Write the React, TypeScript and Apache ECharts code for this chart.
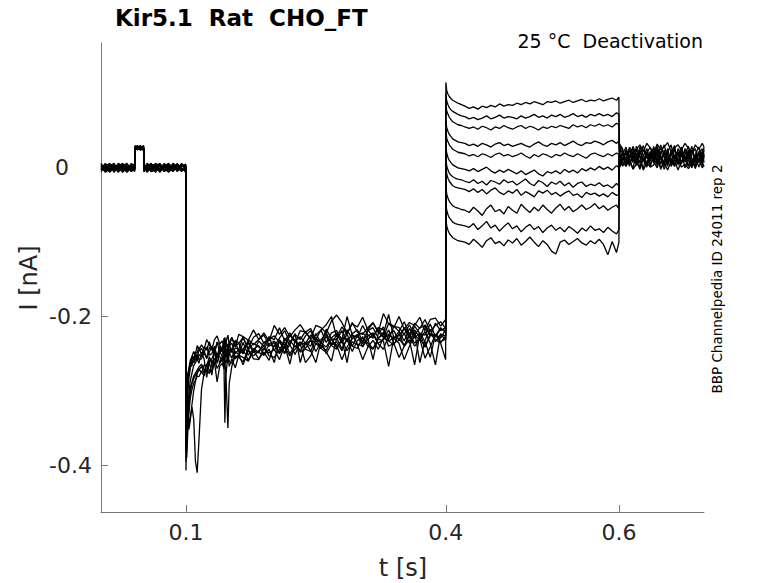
import React, { useEffect, useRef } from "react";
import * as echarts from "echarts";

// time grids (ms)
const PRE_T_MS = [2, 7, 12, 17, 22, 27, 32, 37, 41, 41.3, 44, 47, 51.2, 51.5, 55, 60, 65, 70, 75, 80, 85, 90, 95, 99.9];
const DEACT_T_MS = [
  100.1, 101, 102, 103.5, 105, 107, 109, 111, 113, 115,
  118, 121, 124, 127, 130, 133, 136, 139, 142, 144,
  145, 146, 148.5, 150, 153, 157, 161, 166, 172, 178,
  184, 190, 196, 202, 208, 214, 220, 226, 232, 238,
  244, 250, 256, 262, 268, 274, 280, 286, 292, 298,
  304, 310, 316, 322, 328, 334, 340, 346, 352, 358,
  364, 370, 376, 382, 388, 394, 399.8,
];
const ACT_T_MS = [
  400.1, 401, 402.5, 404, 406, 408, 411, 414, 418, 422,
  427, 432, 437, 442, 447, 452, 457, 462, 467, 472,
  477, 482, 487, 492, 497, 502, 507, 512, 517, 522,
  527, 532, 537, 542, 547, 552, 557, 562, 567, 572,
  577, 582, 587, 592, 597, 599.8,
];
const TAIL_T_MS = [
  600.1, 604, 608, 612, 616, 620, 624, 628, 632, 636,
  640, 644, 648, 652, 656, 660, 664, 668, 672, 676,
  680, 684, 688, 692, 696, 698,
];

// currents (pA), one row per sweep
const PRE_PA = [
  [3, -5, 2, 6, -3, 0, 5, -2, 3, 28, 26, 29, 27, -2, 5, -3, 2, 6, -5, 0, 3, -2, 5, 2],
  [-2, 3, -6, 0, 5, -3, 2, -5, 0, 25, 28, 26, 24, 3, -3, 0, 5, -2, 3, -6, 0, 5, -3, -2],
  [5, 0, 3, -5, 2, 6, -3, 3, -2, 27, 24, 27, 29, -5, 2, 6, -3, 0, 5, 2, -5, 2, 3, 0],
  [0, -5, 5, 2, -6, 3, -2, 6, 2, 30, 27, 25, 28, 0, -2, 3, -6, 5, 0, 3, 2, -3, 6, -2],
  [-3, 6, -2, 3, 0, -5, 3, 0, -5, 24, 29, 28, 26, 5, 0, -5, 2, -3, 6, -2, 5, 0, -5, 3],
  [2, -2, 0, -3, 6, 2, -5, 5, 3, 26, 25, 30, 27, -3, 6, 2, -2, 3, -3, 5, -2, 3, 0, -5],
  [-5, 2, -3, 5, -2, 3, 6, -5, 0, 29, 26, 24, 25, 2, -5, 5, 0, -6, 2, -3, 3, -5, 2, 5],
  [6, -3, 3, -2, 2, -6, 0, 2, -3, 27, 30, 27, 28, -2, 3, -2, 6, 2, -5, 0, -3, 6, -2, 0],
  [0, 5, -5, 3, -5, 5, -3, -2, 5, 24, 26, 29, 25, 3, -6, 0, 3, -3, 2, 6, 0, -2, 5, -3],
  [-2, 2, 6, -6, 3, -2, 2, 3, -2, 28, 27, 26, 30, -5, 2, -5, -3, 5, -2, -5, 6, 2, -3, 3],
  [3, -6, -2, 0, 5, 0, -6, 0, 6, 25, 28, 25, 26, 0, -3, 3, 5, -5, 3, 2, -5, 3, 0, -6],
];

const DEACT_PA = [
  [-407, -335, -292, -270, -259, -254, -247, -251, -239, -245,
   -238, -244, -231, -238, -244, -231, -226, -237, -233, -240,
   -228, -235, -225, -239, -229, -241, -224, -227, -232, -218,
   -231, -222, -233, -212, -224, -215, -227, -218, -211, -222,
   -229, -212, -215, -222, -206, -198, -208, -222, -210, -214,
   -201, -218, -209, -221, -196, -210, -215, -200, -217, -208,
   -212, -201, -219, -204, -202, -213, -204],
  [-380, -350, -305, -283, -270, -253, -258, -248, -249, -241,
   -252, -241, -245, -234, -245, -249, -235, -238, -245, -229,
   -241, -231, -246, -235, -228, -240, -236, -228, -243, -228,
   -223, -236, -228, -231, -215, -233, -222, -235, -219, -221,
   -216, -231, -218, -211, -200, -228, -214, -224, -208, -221,
   -224, -215, -208, -221, -228, -209, -213, -220, -207, -224,
   -209, -216, -204, -220, -212, -207, -216],
  [-360, -310, -288, -276, -268, -266, -254, -252, -256, -246,
   -243, -250, -255, -242, -242, -250, -234, -248, -241, -236,
   -251, -241, -237, -245, -248, -232, -236, -250, -231, -238,
   -231, -225, -238, -240, -229, -219, -235, -224, -231, -220,
   -231, -225, -218, -235, -222, -219, -231, -200, -225, -228,
   -212, -225, -229, -215, -218, -231, -213, -215, -224, -211,
   -225, -215, -213, -226, -209, -219, -215],
  [-330, -295, -282, -272, -266, -262, -261, -251, -259, -251,
   -254, -246, -257, -248, -240, -251, -256, -243, -247, -240,
   -250, -243, -253, -237, -247, -233, -248, -243, -236, -248,
   -233, -240, -227, -246, -232, -239, -225, -232, -239, -226,
   -219, -234, -231, -222, -238, -224, -234, -218, -230, -224,
   -237, -218, -227, -215, -228, -224, -219, -232, -215, -224,
   -218, -229, -211, -224, -226, -215, -222],
  [-345, -352, -332, -302, -287, -276, -266, -262, -257, -263,
   -248, -257, -282, -260, -279, -241, -255, -250, -243, -259,
   -245, -255, -240, -249, -256, -242, -244, -250, -233, -246,
   -249, -234, -240, -235, -249, -229, -238, -223, -262, -235,
   -240, -223, -236, -241, -229, -222, -236, -224, -240, -225,
   -222, -229, -258, -223, -214, -233, -229, -220, -233, -216,
   -229, -222, -234, -255, -224, -229, -218],
  [-340, -330, -322, -345, -336, -322, -338, -395, -410, -368,
   -298, -276, -265, -259, -257, -247, -263, -247, -254, -259,
   -242, -252, -256, -246, -243, -257, -251, -235, -252, -243,
   -248, -252, -237, -233, -242, -250, -232, -241, -234, -243,
   -232, -236, -243, -224, -237, -238, -258, -241, -230, -225,
   -241, -226, -222, -236, -231, -218, -236, -232, -223, -236,
   -220, -262, -232, -217, -234, -224, -226],
  [-300, -310, -330, -352, -340, -318, -300, -287, -277, -270,
   -276, -265, -267, -254, -263, -265, -251, -254, -261, -245,
   -257, -247, -262, -251, -244, -256, -252, -244, -259, -244,
   -239, -252, -244, -262, -231, -249, -238, -251, -235, -237,
   -232, -247, -234, -227, -239, -244, -230, -262, -224, -237,
   -240, -231, -224, -237, -244, -225, -229, -236, -258, -240,
   -225, -232, -220, -236, -265, -223, -232],
  [-395, -372, -340, -312, -297, -288, -280, -276, -272, -268,
   -264, -271, -274, -261, -259, -265, -249, -263, -256, -268,
   -343, -280, -252, -260, -263, -247, -251, -265, -246, -253,
   -246, -240, -253, -255, -244, -234, -250, -239, -246, -235,
   -246, -262, -233, -250, -237, -234, -246, -229, -240, -243,
   -227, -240, -244, -230, -233, -267, -228, -230, -239, -226,
   -240, -230, -256, -241, -224, -234, -230],
  [-352, -365, -338, -318, -302, -290, -284, -279, -276, -272,
   -267, -276, -270, -277, -264, -256, -270, -263, -254, -270,
   -262, -275, -350, -290, -267, -253, -255, -261, -244, -257,
   -258, -243, -249, -244, -258, -238, -264, -232, -248, -244,
   -247, -230, -243, -248, -260, -229, -243, -231, -247, -232,
   -229, -236, -243, -230, -221, -240, -236, -255, -240, -223,
   -236, -229, -241, -223, -231, -236, -258],
  [-318, -290, -278, -270, -264, -258, -262, -258, -250, -258,
   -257, -248, -241, -252, -250, -240, -256, -240, -247, -252,
   -235, -245, -249, -239, -236, -250, -244, -228, -245, -236,
   -241, -245, -230, -226, -235, -243, -225, -234, -227, -236,
   -225, -229, -236, -217, -230, -231, -219, -234, -223, -218,
   -234, -219, -215, -229, -224, -197, -229, -225, -216, -229,
   -213, -223, -225, -210, -227, -217, -219],
  [-372, -390, -360, -330, -310, -298, -290, -286, -280, -281,
   -274, -280, -265, -272, -276, -261, -288, -267, -263, -270,
   -256, -263, -253, -267, -257, -269, -252, -255, -260, -246,
   -257, -248, -259, -238, -250, -241, -253, -244, -237, -262,
   -253, -236, -239, -246, -230, -242, -232, -246, -234, -238,
   -258, -241, -232, -244, -229, -233, -238, -223, -240, -231,
   -265, -223, -241, -226, -224, -235, -226],
];

const ACT_PA = [
  [115, 104, 99, 96, 93, 91, 89, 87, 85, 83, 80, 82, 79, 83, 81, 84, 82, 86, 83, 85,
   84, 87, 85, 88, 86, 89, 87, 85, 89, 88, 90, 87, 89, 91, 88, 90, 92, 89, 91, 90,
   93, 90, 92, 94, 91, 95],
  [100, 90, 85, 81, 78, 76, 74, 72, 70, 69, 66, 68, 65, 67, 70, 66, 68, 71, 67, 69,
   68, 66, 70, 67, 69, 72, 68, 70, 67, 71, 69, 72, 68, 70, 73, 69, 71, 68, 72, 70,
   73, 70, 72, 69, 74, 72],
  [87, 77, 72, 68, 65, 62, 60, 58, 57, 55, 53, 55, 52, 56, 54, 51, 55, 53, 57, 54,
   52, 55, 57, 53, 56, 54, 51, 55, 53, 56, 54, 57, 55, 53, 58, 55, 57, 54, 58, 56,
   59, 56, 58, 55, 60, 58],
  [64, 54, 49, 45, 42, 39, 37, 35, 34, 33, 30, 32, 29, 33, 31, 28, 32, 34, 30, 32,
   29, 31, 33, 30, 28, 32, 35, 31, 29, 33, 31, 34, 30, 33, 36, 32, 30, 34, 33, 36,
   34, 31, 35, 37, 33, 36],
  [50, 40, 35, 31, 28, 25, 23, 21, 20, 19, 16, 18, 15, 19, 17, 14, 18, 20, 16, 18,
   15, 17, 20, 16, 13, 18, 15, 19, 17, 14, 18, 16, 20, 17, 15, 19, 16, 13, 18, 20,
   17, 15, 19, 16, 20, 18],
  [30, 20, 14, 10, 7, 4, 2, 0, -1, -2, -4, -1, -5, -2, 1, -4, -7, -3, -6, -2,
   -5, -8, -4, -9, -6, -3, -8, -11, -5, -7, -4, -8, -2, -6, -3, -7, -1, -4, 0, -3,
   2, -2, 1, -3, 3, 0],
  [14, 3, -3, -7, -10, -12, -14, -15, -16, -18, -20, -16, -21, -18, -23, -17, -19, -22, -16, -20,
   -18, -23, -19, -15, -21, -24, -17, -20, -25, -19, -22, -18, -24, -20, -26, -21, -19, -25, -22, -24,
   -20, -25, -23, -27, -21, -24],
  [3, -8, -14, -18, -21, -24, -26, -27, -28, -29, -32, -28, -33, -29, -35, -30, -27, -33, -36, -31,
   -34, -29, -37, -32, -35, -39, -31, -34, -30, -36, -33, -38, -34, -31, -37, -35, -40, -33, -36, -34,
   -38, -35, -39, -33, -37, -36],
  [-24, -35, -41, -45, -48, -51, -53, -54, -56, -57, -60, -53, -58, -64, -55, -50, -59, -56, -62, -52,
   -57, -61, -49, -55, -60, -53, -58, -50, -56, -61, -54, -49, -57, -52, -59, -55, -50, -56, -53, -48,
   -55, -51, -57, -53, -50, -55],
  [-46, -57, -63, -67, -70, -73, -75, -76, -77, -78, -80, -75, -83, -78, -72, -81, -77, -85, -79, -74,
   -82, -78, -86, -80, -76, -83, -79, -87, -81, -77, -84, -80, -86, -79, -83, -88, -81, -85, -78, -84,
   -82, -87, -80, -85, -89, -83],
  [-67, -78, -84, -88, -91, -94, -96, -98, -99, -100, -103, -96, -101, -107, -98, -94, -102, -99, -105, -97,
   -101, -95, -104, -99, -93, -100, -106, -98, -103, -112, -116, -100, -97, -103, -99, -95, -101, -104, -98, -102,
   -96, -103, -117, -99, -114, -100],
];

const TAIL_PA = [
  [28, 20, 9, 25, 15, 4, 19, 30, 13, 22, 6, 27, 17, 2, 21, 31, 11, 20, 5, 26, 15, 29, 9, 21, 3, 18],
  [22, 7, 24, 13, 29, 17, 1, 16, 26, 9, 22, 3, 19, 31, 13, 7, 24, 16, 28, 11, 2, 19, 26, 7, 22, 14],
  [33, 26, 3, 18, 9, 24, 14, -1, 20, 28, 11, 18, 5, 24, 9, 20, 30, 4, 16, 22, 10, 0, 18, 28, 11, 24],
  [30, 11, 20, 2, 22, 11, 28, 17, 7, 16, 26, 9, 31, 16, 2, 24, 13, 22, 7, 18, 29, 13, 3, 20, 26, 7],
  [5, 18, 28, 11, -1, 20, 7, 24, 16, 2, 18, 29, 11, 20, 7, 13, 3, 26, 18, 9, 22, 7, 16, 1, 13, 20],
  [18, 2, 13, 24, 7, 29, 16, 9, 22, 5, 13, 24, -2, 11, 26, 5, 18, 9, 22, 0, 13, 24, 7, 18, 9, 28],
  [3, 13, 22, 5, 18, 9, -2, 13, 3, 20, 9, 0, 16, 7, 20, 2, 11, -3, 9, 16, 3, 11, -1, 13, 7, 2],
  [31, 24, 11, 28, 20, 25, 31, 22, 33, 27, 20, 32, 24, 28, 34, 22, 27, 31, 24, 33, 27, 20, 31, 25, 33, 28],
  [0, 8, 2, 12, -2, 5, 10, -3, 7, 1, 4, 12, 0, 7, -3, 9, 2, 12, 1, 5, -1, 7, 2, 11, 0, 4],
  [10, 20, 7, 16, 27, 3, 24, 8, 18, 12, 29, 7, 22, 14, 5, 18, 26, 8, 20, 12, 24, 7, 18, 10, 22, 16],
  [0, 13, 20, 5, 15, 8, 22, 11, 1, 18, 8, 22, 12, -2, 11, 20, 4, 15, 24, 8, 18, 2, 12, 22, 6, 15],
];

const X_TICKS = [0.1, 0.4, 0.6];
const Y_TICKS = [-0.4, -0.2, 0];

const TITLE = "Kir5.1  Rat  CHO_FT";
const SUBTITLE = "25 °C  Deactivation";
const SIDE_NOTE = "BBP Channelpedia ID 24011 rep 2";
const X_NAME = "t [s]";
const Y_NAME = "I [nA]";

const FONT = "DejaVu Sans";

export default function App() {
  const ref = useRef<HTMLDivElement>(null);

  useEffect(() => {
    document.body.style.margin = "0";
    const chart = echarts.init(ref.current as HTMLDivElement, null, { renderer: "svg" });

    const series = PRE_PA.map((_, i) => {
      const data: number[][] = [];
      PRE_T_MS.forEach((t, k) => data.push([t / 1000, PRE_PA[i][k] / 1000]));
      DEACT_T_MS.forEach((t, k) => data.push([t / 1000, DEACT_PA[i][k] / 1000]));
      ACT_T_MS.forEach((t, k) => data.push([t / 1000, ACT_PA[i][k] / 1000]));
      TAIL_T_MS.forEach((t, k) => data.push([t / 1000, TAIL_PA[i][k] / 1000]));
      return {
        type: "line",
        name: "sweep " + (i + 1),
        data,
        symbol: "none",
        showSymbol: false,
        silent: true,
        clip: true,
        lineStyle: { color: "#000000", width: 1.3 },
      };
    });

    const axisColor = "#777777";
    const labelColor = "#262626";

    chart.setOption({
      animation: false,
      backgroundColor: "#ffffff",
      grid: { left: 101, top: 43, width: 603, height: 469, containLabel: false, outerBoundsMode: "none" },
      xAxis: {
        type: "value",
        min: 0.002,
        max: 0.698,
        axisLine: { show: true, onZero: false, lineStyle: { color: axisColor, width: 1 } },
        axisTick: { show: true, inside: true, length: 7, customValues: X_TICKS, lineStyle: { color: axisColor } },
        axisLabel: {
          customValues: X_TICKS,
          formatter: (v: number) => String(v),
          fontSize: 22,
          fontFamily: FONT,
          color: labelColor,
          margin: 9,
        },
        splitLine: { show: false },
      },
      yAxis: {
        type: "value",
        min: -0.463,
        max: 0.168,
        axisLine: { show: true, onZero: false, lineStyle: { color: axisColor, width: 1 } },
        axisTick: { show: true, inside: true, length: 7, customValues: Y_TICKS, lineStyle: { color: axisColor } },
        axisLabel: {
          customValues: Y_TICKS,
          formatter: (v: number) => (Math.abs(v) < 1e-9 ? "{z|0}" : "{n|" + v.toFixed(1) + "}"),
          fontSize: 22,
          fontFamily: FONT,
          color: labelColor,
          margin: 9,
          rich: {
            z: { fontSize: 22, fontFamily: FONT, color: labelColor, padding: [0, 23, 0, 0] },
            n: { fontSize: 22, fontFamily: FONT, color: labelColor },
          },
        },
        splitLine: { show: false },
      },
      graphic: [
        {
          type: "text",
          x: 115,
          y: 18,
          style: { text: TITLE, fontSize: 23, fontWeight: "bold", fontFamily: FONT, fill: "#000000", align: "left", verticalAlign: "middle" },
        },
        {
          type: "text",
          x: 703,
          y: 41,
          style: { text: SUBTITLE, fontSize: 19, fontFamily: FONT, fill: "#000000", align: "right", verticalAlign: "middle" },
        },
        {
          type: "text",
          x: 717,
          y: 279,
          rotation: Math.PI / 2,
          style: { text: SIDE_NOTE, fontSize: 13.5, fontFamily: FONT, fill: "#000000", align: "center", verticalAlign: "middle" },
        },
        {
          type: "text",
          x: 403,
          y: 568,
          style: { text: X_NAME, fontSize: 24, fontFamily: FONT, fill: labelColor, align: "center", verticalAlign: "middle" },
        },
        {
          type: "text",
          x: 29,
          y: 278,
          rotation: Math.PI / 2,
          style: { text: Y_NAME, fontSize: 24, fontFamily: FONT, fill: labelColor, align: "center", verticalAlign: "middle" },
        },
      ],
      series,
    });

    return () => chart.dispose();
  }, []);

  return (
    <div
      ref={ref}
      style={{ position: "fixed", left: 0, top: 0, width: 778, height: 583, background: "#ffffff" }}
    />
  );
}
